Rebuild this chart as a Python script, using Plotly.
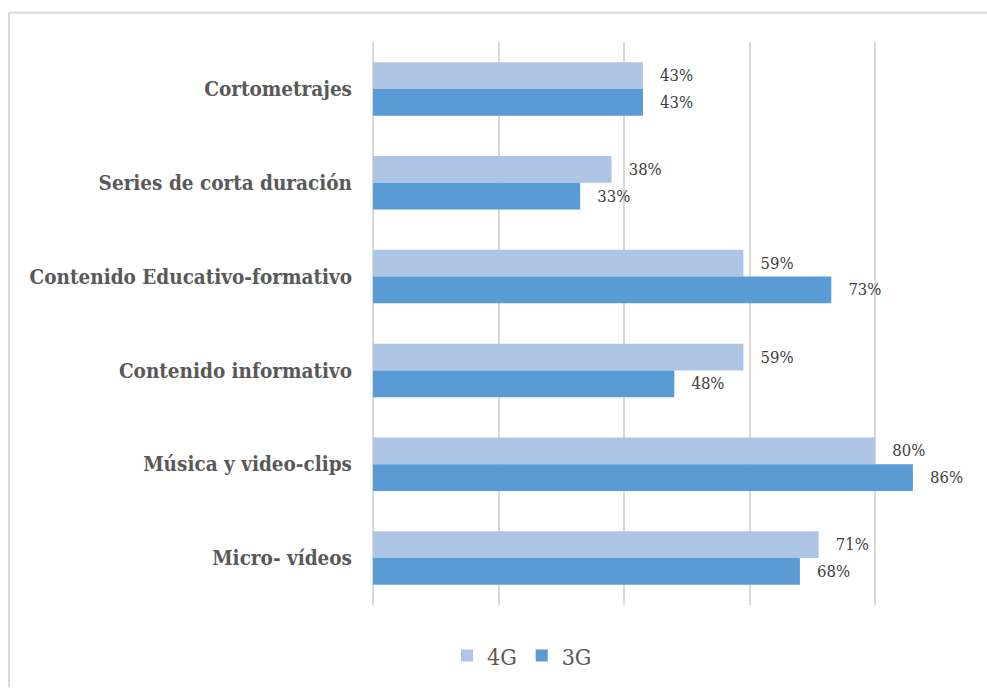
import plotly.graph_objects as go

categories = [
    "Cortometrajes",
    "Series de corta duración",
    "Contenido Educativo-formativo",
    "Contenido informativo",
    "Música y video-clips",
    "Micro- vídeos",
]
series_names = ["4G", "3G"]
values_4g = [0.43, 0.38, 0.59, 0.59, 0.80, 0.71]
values_3g = [0.43, 0.33, 0.73, 0.48, 0.86, 0.68]
colors = ["#adc6e6", "#5b9bd5"]

SERIF = "DejaVu Serif Condensed, DejaVu Serif, serif"

W, H = 987, 689
L, R = 373, 49
T, B = 42, 80
pw = W - L - R
ph = H - T - B

def px2paper_x(px):
    return (px - L) / pw

def px2paper_y(py):
    return (H - B - py) / ph

fig = go.Figure()
for name, vals, col in zip(series_names, [values_4g, values_3g], colors):
    fig.add_trace(go.Bar(
        name=name,
        y=categories,
        x=vals,
        orientation="h",
        marker=dict(color=col, line=dict(width=0)),
        text=vals,
        texttemplate="\u00a0\u00a0\u00a0%{x:.0%}",
        textposition="outside",
        cliponaxis=False,
        textfont=dict(family=SERIF, size=16.5, color="#404040"),
        hoverinfo="skip",
    ))

fig.update_layout(
    width=W, height=H,
    margin=dict(l=L, r=R, t=T, b=B),
    paper_bgcolor="white",
    plot_bgcolor="white",
    barmode="group",
    bargap=0.43,
    bargroupgap=0,
    font=dict(family=SERIF, color="#595959"),
    xaxis=dict(
        range=[0, 0.9],
        dtick=0.2,
        showgrid=True,
        gridcolor="#d9d9d9",
        gridwidth=2,
        zeroline=True,
        zerolinecolor="#d9d9d9",
        zerolinewidth=2,
        showticklabels=False,
        showline=False,
        fixedrange=True,
    ),
    yaxis=dict(
        autorange="reversed",
        showgrid=False,
        zeroline=False,
        showline=False,
        ticks="",
        ticklabelstandoff=20,
        tickfont=dict(family=SERIF, size=20.5, color="#595959", weight="bold"),
    ),
    legend=dict(
        orientation="h",
        x=px2paper_x(522), xanchor="center",
        y=px2paper_y(660), yanchor="middle",
        font=dict(family=SERIF, size=23, color="#595959"),
        itemwidth=30,
        traceorder="normal",
    ),
    showlegend=True,
    shapes=[
        dict(type="line", xref="paper", yref="paper",
             x0=px2paper_x(9), x1=px2paper_x(990), y0=px2paper_y(12.5), y1=px2paper_y(12.5),
             line=dict(color="#d9d9d9", width=2)),
        dict(type="line", xref="paper", yref="paper",
             x0=px2paper_x(9), x1=px2paper_x(9), y0=px2paper_y(12.5), y1=px2paper_y(692),
             line=dict(color="#d9d9d9", width=2)),
    ],
)

fig.write_html("out.html")
